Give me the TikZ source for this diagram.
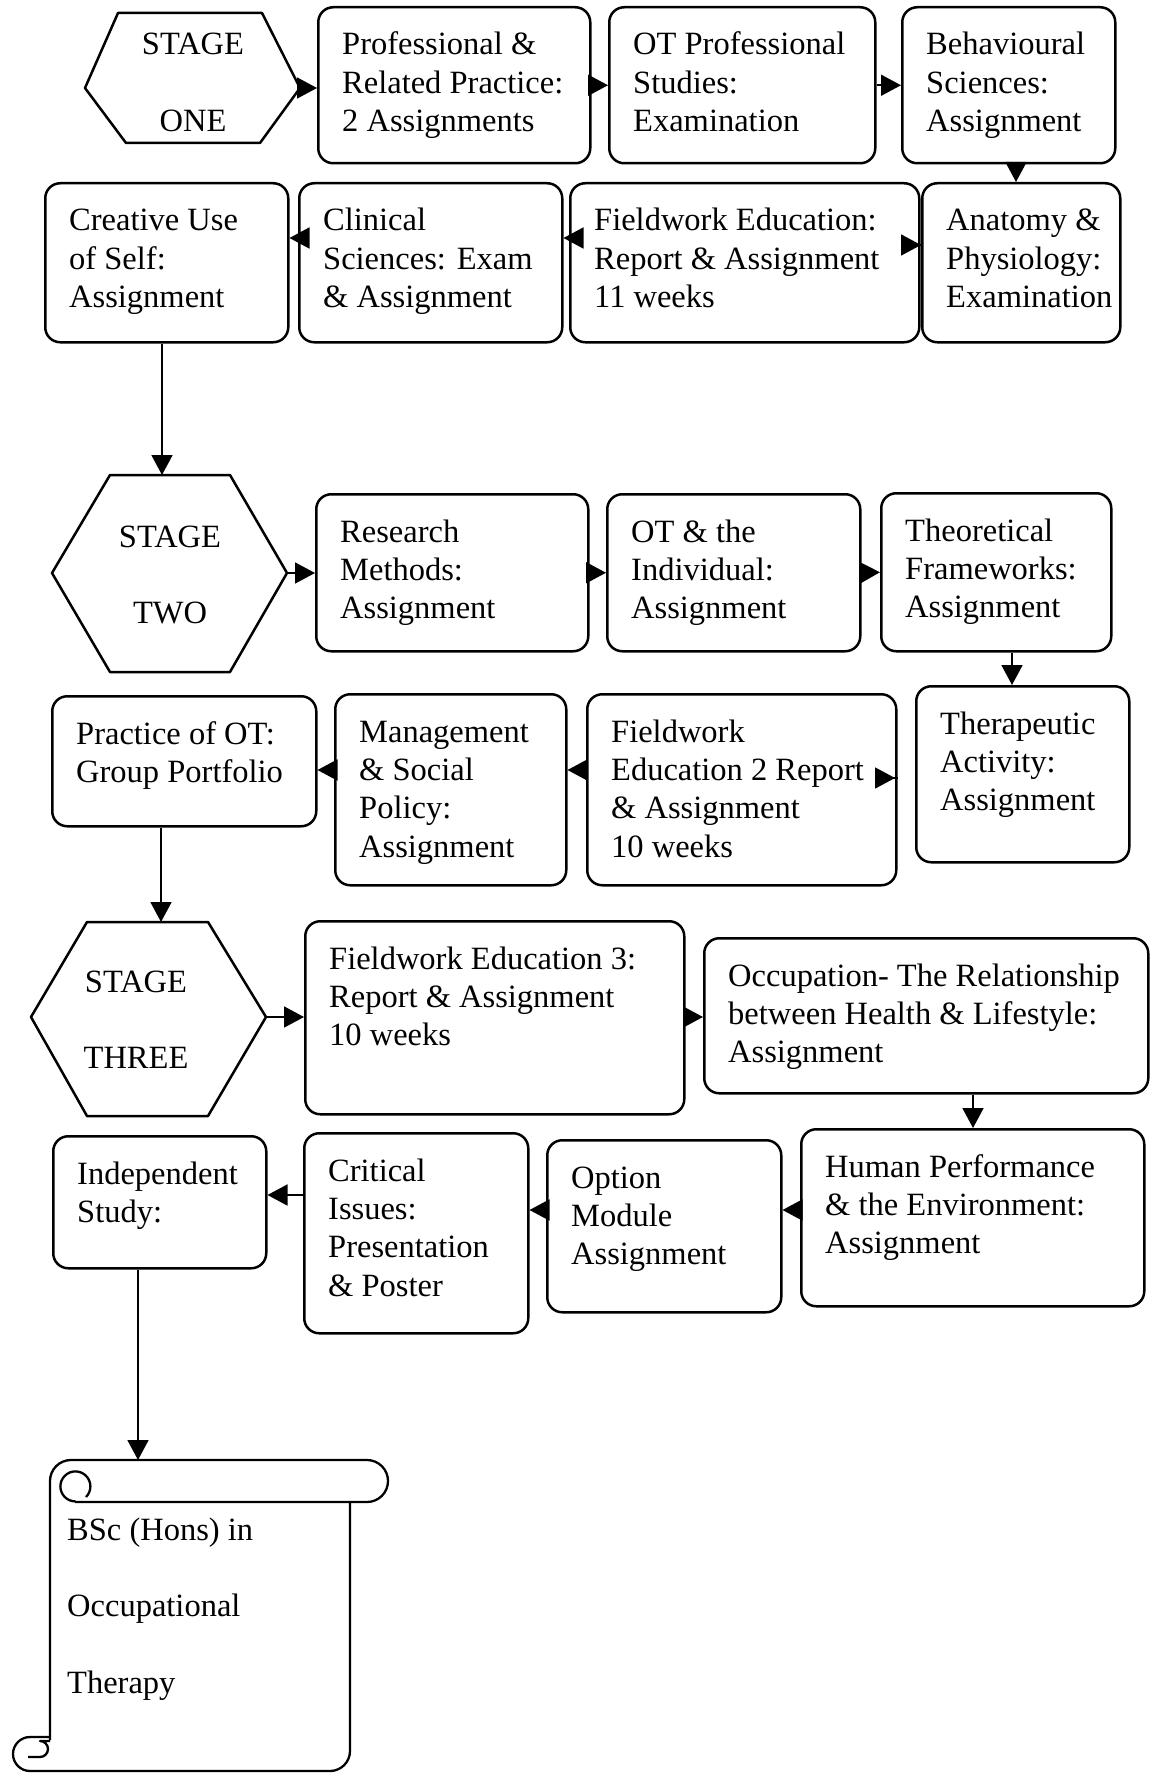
\documentclass[tikz,border=0pt]{standalone}
\usepackage{fontspec}
\setmainfont{Liberation Serif}
\usetikzlibrary{arrows.meta}
\newcommand{\ml}[1]{\begin{tabular}[t]{@{}l@{}}#1\end{tabular}}
\newcommand{\mc}[1]{\begin{tabular}[t]{@{}c@{}}#1\end{tabular}}
\newcommand{\bx}[6]{%
  \node[box, minimum width={(#4-#2)*1pt}, minimum height={(#5-#3)*1pt}, anchor=north west] (#1) at (#2,#3) {};
  \node[txt] (#1t) at (#2+25,#3+49) {\ml{#6}};
}
\begin{document}
\begin{tikzpicture}[x=1pt,y=-1pt,
  box/.style={draw, line width=2.5pt, rounded corners=15pt, rectangle, inner sep=0pt},
  txt/.style={font=\fontsize{32.5}{38.4}\selectfont, inner sep=0pt, anchor=base west},
  stg/.style={font=\fontsize{32.5}{38.4}\selectfont, inner sep=0pt, anchor=base},
  hexa/.style={draw, line width=2.5pt, line join=round},
  scr/.style={draw, line width=2.3pt, line join=round},
  arr/.style={draw, line width=1.7pt, -{Triangle[length=20pt,width=21pt]}},
]
\fill[white] (0,0) rectangle (1159,1776);
\useasboundingbox (0,0) rectangle (1159,1776);

% ---------- Stage one ----------
\coordinate (h1L) at (85,88);
\coordinate (h1TL) at (118,13);
\coordinate (h1TR) at (262,13);
\coordinate (h1R) at (300,88);
\coordinate (h1BR) at (260,143);
\coordinate (h1BL) at (126,143);
\draw[hexa] (h1L) -- (h1TL) -- (h1TR) -- (h1R) -- (h1BR) -- (h1BL) -- cycle;
\node[stg] (h1t) at (193,55) {\mc{STAGE\\[38.4pt]ONE}};

\bx{p1}{317}{6}{589}{162}{Professional \&\\Related Practice:\\2 Assignments}
\bx{p2}{608}{6}{874}{162}{OT Professional\\Studies:\\Examination}
\bx{p3}{901}{6}{1114}{162}{Behavioural\\Sciences:\\Assignment}

\bx{cr}{44}{182}{287}{341}{Creative Use\\of Self:\\Assignment}
\bx{cl}{298}{182}{561}{341}{Clinical\\Sciences: Exam\\\& Assignment}
\bx{fe}{569}{182}{918}{341}{Fieldwork Education:\\Report \& Assignment\\11 weeks}
\bx{an}{921}{182}{1119}{341}{Anatomy \&\\Physiology:\\Examination}

% ---------- Stage two ----------
\coordinate (h2L) at (52,573);
\coordinate (h2TL) at (110,475);
\coordinate (h2TR) at (230,475);
\coordinate (h2R) at (287,573);
\coordinate (h2BR) at (230,672);
\coordinate (h2BL) at (110,672);
\draw[hexa] (h2L) -- (h2TL) -- (h2TR) -- (h2R) -- (h2BR) -- (h2BL) -- cycle;
\node[stg] (h2t) at (170,547) {\mc{STAGE\\[38.4pt]TWO}};

\bx{rm}{315}{493}{587}{650}{Research\\Methods:\\Assignment}
\bx{oi}{606}{493}{859}{650}{OT \& the\\Individual:\\Assignment}
\bx{tf}{880}{492}{1110}{650}{Theoretical\\Frameworks:\\Assignment}

\bx{po}{51}{695}{315}{825}{Practice of OT:\\Group Portfolio}
\bx{ms}{334}{693}{565}{884}{Management\\\& Social\\Policy:\\Assignment}
\bx{fe2}{586}{693}{895}{884}{Fieldwork\\Education 2 Report\\\& Assignment\\10 weeks}
\bx{ta}{915}{685}{1128}{861}{Therapeutic\\Activity:\\Assignment}

% ---------- Stage three ----------
\coordinate (h3L) at (31,1017);
\coordinate (h3TL) at (87,922);
\coordinate (h3TR) at (208,922);
\coordinate (h3R) at (266,1017);
\coordinate (h3BR) at (208,1116);
\coordinate (h3BL) at (87,1116);
\draw[hexa] (h3L) -- (h3TL) -- (h3TR) -- (h3R) -- (h3BR) -- (h3BL) -- cycle;
\node[stg] (h3t) at (136,992) {\mc{STAGE\\[38.4pt]THREE}};

\bx{fe3}{304}{920}{683}{1113}{Fieldwork Education 3:\\Report \& Assignment\\10 weeks}
\bx{oc}{703}{937}{1147}{1092}{Occupation- The Relationship\\between Health \& Lifestyle:\\Assignment}

\bx{is}{52}{1135}{265}{1267}{Independent\\Study:}
\bx{ci}{303}{1132}{527}{1332}{Critical\\Issues:\\Presentation\\\& Poster}
\bx{om}{546}{1139}{780}{1311}{Option\\Module\\Assignment}
\bx{hp}{800}{1128}{1143}{1305}{Human Performance\\\& the Environment:\\Assignment}

% ---------- Scroll ----------
\draw[scr] (50,1740) -- (50,1481) arc[start angle=180,end angle=270,radius=21]
  -- (367,1460) arc[start angle=270,end angle=450,radius=21] -- (75,1502);
\draw[scr] (86,1497) arc[start angle=45,end angle=-270,radius=15];
\draw[scr] (350,1502) -- (350,1751) arc[start angle=0,end angle=90,radius=20]
  -- (30,1771) arc[start angle=90,end angle=270,radius=17] -- (50,1737);
\draw[scr] (28,1757) -- (40,1757) arc[start angle=90,end angle=-90,radius=8] -- (50,1741);
\coordinate (sc) at (138,1460);
\node[txt] (sct) at (67,1540) {\ml{BSc (Hons) in\\[38.4pt]Occupational\\[38.4pt]Therapy}};

% ---------- Connectors ----------
\draw[arr] (h1R) -- (p1.west |- h1R);
\draw[arr] (p1.east) -- (p2.west);
\draw[arr] (p2.east) -- (p3.west);
\coordinate (c1) at (1016,0);
\draw[arr] (p3.south -| c1) -- (an.north -| c1);
\coordinate (r2a) at (0,238);
\coordinate (r2b) at (0,245);
\draw[arr] (fe.east |- r2b) -- (an.west |- r2b);
\draw[arr] (fe.west |- r2a) -- (cl.east |- r2a);
\draw[arr] (cl.west |- r2a) -- (cr.east |- r2a);
\coordinate (c2) at (162,0);
\draw[arr] (cr.south -| c2) -- (h2TL -| c2);

\draw[arr] (h2R) -- (rm.west |- h2R);
\draw[arr] (rm.east) -- (oi.west);
\draw[arr] (oi.east) -- (tf.west);
\coordinate (c3) at (1012,0);
\draw[arr] (tf.south -| c3) -- (ta.north -| c3);

\coordinate (r4a) at (0,770);
\coordinate (r4b) at (0,778);
\draw[arr, shorten >=20pt] (fe2.east |- r4b) -- (ta.west |- r4b);
\draw[arr] (fe2.west |- r4a) -- (ms.east |- r4a);
\draw[arr] (ms.west |- r4a) -- (po.east |- r4a);
\coordinate (c4) at (161,0);
\draw[arr] (po.south -| c4) -- (h3TL -| c4);

\draw[arr] (h3R) -- (fe3.west |- h3R);
\draw[arr] (fe3.east |- h3R) -- (oc.west |- h3R);
\coordinate (c5) at (973,0);
\draw[arr] (oc.south -| c5) -- (hp.north -| c5);

\coordinate (r6a) at (0,1210);
\coordinate (r6b) at (0,1195);
\draw[arr] (hp.west |- r6a) -- (om.east |- r6a);
\draw[arr] (om.west |- r6a) -- (ci.east |- r6a);
\draw[arr] (ci.west |- r6b) -- (is.east |- r6b);
\coordinate (c6) at (138,0);
\draw[arr] (is.south -| c6) -- (sc);
\end{tikzpicture}
\end{document}
